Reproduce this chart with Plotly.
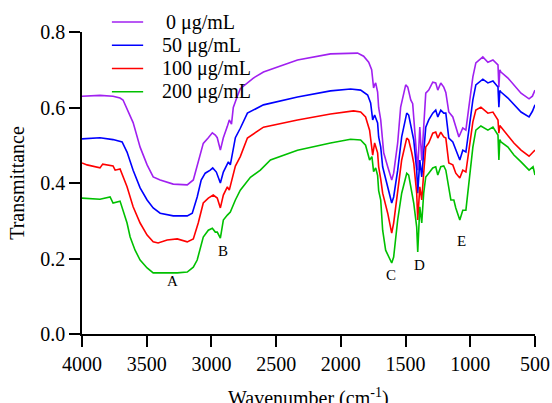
import plotly.graph_objects as go

# ---- data ----
labels = ["0 μg/mL", "50 μg/mL", "100 μg/mL", "200 μg/mL"]
colors = ["#A020F0", "#0000FF", "#FF0000", "#00C000"]

wn_0 = [4000, 3861, 3760, 3706, 3683, 3605, 3551, 3497, 3450, 3396, 3295, 3187, 3140, 3102, 3063,
        3024, 2993, 2970, 2955, 2931, 2908, 2877, 2862, 2845, 2831, 2800, 2777, 2676, 2598, 2467, 2335,
        2080, 1948, 1871, 1824, 1785, 1762, 1747, 1739, 1731, 1716, 1708, 1692, 1677, 1669, 1638,
        1607, 1592, 1561, 1538, 1499, 1483, 1460, 1445, 1421, 1406, 1390, 1375, 1360, 1344, 1321,
        1290, 1267, 1251, 1228, 1205, 1189, 1166, 1135, 1112, 1088, 1058, 1034, 1011, 980, 957, 903,
        864, 825, 786, 779, 772, 763, 709, 663, 608, 546, 520, 500]
tr_0 = [0.630, 0.632, 0.630, 0.625, 0.620, 0.560, 0.495, 0.448, 0.416, 0.408, 0.397, 0.395, 0.408,
        0.453, 0.505, 0.520, 0.533, 0.527, 0.520, 0.487, 0.520, 0.550, 0.567, 0.556, 0.600, 0.630,
        0.650, 0.678, 0.694, 0.710, 0.726, 0.742, 0.744, 0.744, 0.736, 0.720, 0.700, 0.652, 0.660,
        0.665, 0.641, 0.600, 0.567, 0.510, 0.480, 0.443, 0.408, 0.426, 0.506, 0.601, 0.660, 0.654,
        0.620, 0.610, 0.495, 0.434, 0.548, 0.460, 0.548, 0.638, 0.646, 0.667, 0.665, 0.646, 0.665,
        0.654, 0.640, 0.588, 0.575, 0.546, 0.522, 0.546, 0.540, 0.601, 0.681, 0.718, 0.734, 0.720,
        0.726, 0.713, 0.654, 0.700, 0.694, 0.678, 0.660, 0.638, 0.623, 0.630, 0.646]

wn_50 = [4000, 3861, 3760, 3690, 3652, 3605, 3551, 3497, 3450, 3396, 3295, 3187, 3148, 3110, 3079,
         3048, 3009, 2990, 2962, 2931, 2908, 2869, 2854, 2815, 2777, 2722, 2598, 2335, 2080, 1925,
         1847, 1793, 1770, 1754, 1739, 1716, 1708, 1692, 1677, 1638, 1607, 1592, 1561, 1530, 1491,
         1476, 1452, 1437, 1414, 1406, 1390, 1375, 1360, 1344, 1321, 1290, 1267, 1251, 1228, 1205,
         1189, 1166, 1135, 1112, 1081, 1058, 1034, 1011, 980, 957, 903, 864, 825, 786, 779, 772,
         763, 709, 663, 608, 546, 520, 500]
tr_50 = [0.517, 0.520, 0.515, 0.509, 0.482, 0.434, 0.387, 0.355, 0.334, 0.320, 0.313, 0.313, 0.320,
         0.363, 0.408, 0.426, 0.434, 0.440, 0.429, 0.400, 0.429, 0.456, 0.448, 0.520, 0.545, 0.585,
         0.607, 0.628, 0.644, 0.649, 0.646, 0.633, 0.612, 0.567, 0.580, 0.559, 0.522, 0.495, 0.443,
         0.390, 0.347, 0.363, 0.434, 0.522, 0.585, 0.580, 0.540, 0.514, 0.434, 0.373, 0.461, 0.416,
         0.480, 0.548, 0.567, 0.585, 0.593, 0.575, 0.593, 0.585, 0.585, 0.519, 0.509, 0.487, 0.461,
         0.487, 0.482, 0.540, 0.620, 0.660, 0.675, 0.665, 0.670, 0.654, 0.601, 0.645, 0.641, 0.625,
         0.607, 0.588, 0.575, 0.590, 0.607]

wn_100 = [4000, 3961, 3861, 3840, 3760, 3744, 3706, 3683, 3652, 3605, 3551, 3497, 3450, 3412, 3342,
          3264, 3187, 3140, 3102, 3063, 3024, 2986, 2955, 2931, 2908, 2877, 2862, 2815, 2777, 2722,
          2598, 2335, 2080, 1902, 1847, 1809, 1778, 1754, 1739, 1716, 1708, 1692, 1677, 1638, 1607,
          1592, 1561, 1530, 1491, 1476, 1452, 1437, 1414, 1406, 1390, 1375, 1360, 1344, 1321, 1290,
          1267, 1251, 1228, 1205, 1189, 1166, 1135, 1112, 1081, 1058, 1034, 1011, 980, 957, 918, 864,
          825, 786, 779, 772, 763, 709, 663, 608, 546, 520, 500]
tr_100 = [0.453, 0.448, 0.440, 0.450, 0.445, 0.434, 0.437, 0.416, 0.390, 0.337, 0.294, 0.262, 0.244,
          0.241, 0.249, 0.252, 0.244, 0.252, 0.294, 0.347, 0.360, 0.368, 0.360, 0.334, 0.368, 0.390,
          0.381, 0.445, 0.470, 0.519, 0.548, 0.567, 0.583, 0.591, 0.588, 0.575, 0.540, 0.474, 0.506,
          0.480, 0.443, 0.410, 0.373, 0.320, 0.267, 0.294, 0.373, 0.461, 0.519, 0.514, 0.480, 0.453,
          0.373, 0.302, 0.390, 0.355, 0.426, 0.495, 0.506, 0.532, 0.535, 0.519, 0.535, 0.522, 0.519,
          0.453, 0.448, 0.426, 0.413, 0.434, 0.429, 0.487, 0.562, 0.593, 0.601, 0.585, 0.588, 0.567,
          0.532, 0.552, 0.548, 0.527, 0.506, 0.487, 0.471, 0.480, 0.487]

wn_200 = [4000, 3861, 3783, 3760, 3706, 3683, 3652, 3628, 3590, 3551, 3497, 3450, 3342, 3264, 3187,
          3140, 3110, 3086, 3063, 3024, 2993, 2970, 2955, 2931, 2908, 2877, 2854, 2815, 2777, 2699,
          2622, 2544, 2335, 2080, 1925, 1847, 1809, 1778, 1760, 1747, 1731, 1716, 1708, 1692, 1677,
          1654, 1607, 1592, 1561, 1530, 1491, 1476, 1452, 1437, 1414, 1406, 1390, 1375, 1360, 1344,
          1321, 1290, 1267, 1251, 1228, 1205, 1189, 1166, 1150, 1127, 1112, 1081, 1058, 1034, 1011,
          980, 957, 918, 864, 825, 786, 779, 772, 763, 709, 663, 608, 546, 515, 500]
tr_200 = [0.360, 0.357, 0.363, 0.347, 0.352, 0.328, 0.294, 0.257, 0.222, 0.196, 0.175, 0.162, 0.162,
          0.162, 0.164, 0.177, 0.196, 0.230, 0.257, 0.275, 0.280, 0.270, 0.270, 0.254, 0.302, 0.315,
          0.323, 0.355, 0.381, 0.415, 0.434, 0.461, 0.487, 0.506, 0.516, 0.514, 0.500, 0.461, 0.470,
          0.430, 0.440, 0.420, 0.380, 0.355, 0.275, 0.222, 0.188, 0.204, 0.302, 0.373, 0.426, 0.421,
          0.373, 0.347, 0.283, 0.217, 0.337, 0.294, 0.373, 0.416, 0.426, 0.440, 0.443, 0.421, 0.443,
          0.445, 0.434, 0.390, 0.355, 0.355, 0.334, 0.302, 0.328, 0.328, 0.400, 0.495, 0.540, 0.551,
          0.540, 0.548, 0.527, 0.461, 0.515, 0.509, 0.495, 0.474, 0.456, 0.434, 0.443, 0.421]

series_wn = [wn_0, wn_50, wn_100, wn_200]
series_tr = [tr_0, tr_50, tr_100, tr_200]

peak_labels = ["A", "B", "C", "D", "E"]
peak_wn = [3303, 2908, 1615, 1390, 1065]
peak_tr = [0.140, 0.220, 0.156, 0.183, 0.246]

x_ticks = [4000, 3500, 3000, 2500, 2000, 1500, 1000, 500]
y_ticks = [0.0, 0.2, 0.4, 0.6, 0.8]

x_title = "Wavenumber (cm<sup>-1</sup>)"
y_title = "Transmittance"

FONT = "Times New Roman"

fig = go.Figure()
for name, col, xs, ys in zip(labels, colors, series_wn, series_tr):
    fig.add_trace(go.Scatter(x=xs, y=ys, mode="lines", name=name, showlegend=False,
                             line=dict(color=col, width=1.6)))

for t, xv, yv in zip(peak_labels, peak_wn, peak_tr):
    fig.add_annotation(x=xv, y=yv, text=t, showarrow=False,
                       font=dict(family=FONT, size=15, color="black"))

# legend drawn as line samples + text (paper coordinates, above-left of the plot)
leg_y0 = 1.033
leg_dy = 0.077
for i, (name, col) in enumerate(zip(labels, colors)):
    yy = leg_y0 - i * leg_dy
    fig.add_shape(type="line", xref="paper", yref="paper", x0=0.066, x1=0.135, y0=yy, y1=yy,
                  line=dict(color=col, width=1.6))
    fig.add_annotation(xref="paper", yref="paper", x=0.172, y=yy, xanchor="left", yanchor="middle",
                       text=("\u2009" + name) if i == 0 else name, showarrow=False,
                       font=dict(family=FONT, size=20, color="black"))

# x-axis title placed low, partly clipped by the bottom edge as in the reference
fig.add_annotation(xref="paper", yref="paper", x=0.5, y=-0.21, xanchor="center", yanchor="middle",
                   text=x_title, showarrow=False, font=dict(family=FONT, size=20, color="black"))

fig.update_layout(
    width=552, height=403,
    margin=dict(l=82, r=17, t=32, b=69, autoexpand=False),
    paper_bgcolor="white", plot_bgcolor="white",
    font=dict(family=FONT, size=20, color="black"),
    showlegend=False,
)
fig.update_xaxes(range=[4000, 500], tickvals=x_ticks, ticktext=[str(v) for v in x_ticks],
                 showgrid=False, zeroline=False, showline=True, linecolor="black", linewidth=1.5,
                 ticks="outside", ticklen=11, tickwidth=1.5, tickcolor="black",
                 tickfont=dict(family=FONT, size=20))
fig.update_yaxes(range=[0, 0.8], tickvals=y_ticks, ticktext=["%.1f" % v for v in y_ticks],
                 showgrid=False, zeroline=False, showline=True, linecolor="black", linewidth=1.5,
                 ticks="outside", ticklen=11, tickwidth=1.5, tickcolor="black",
                 tickfont=dict(family=FONT, size=20),
                 title=dict(text=y_title, standoff=10,
                            font=dict(family=FONT, size=20)))

fig.write_html("out.html", config={"displayModeBar": False},
               post_script="document.body.style.margin='0';document.body.style.overflow='hidden';")
